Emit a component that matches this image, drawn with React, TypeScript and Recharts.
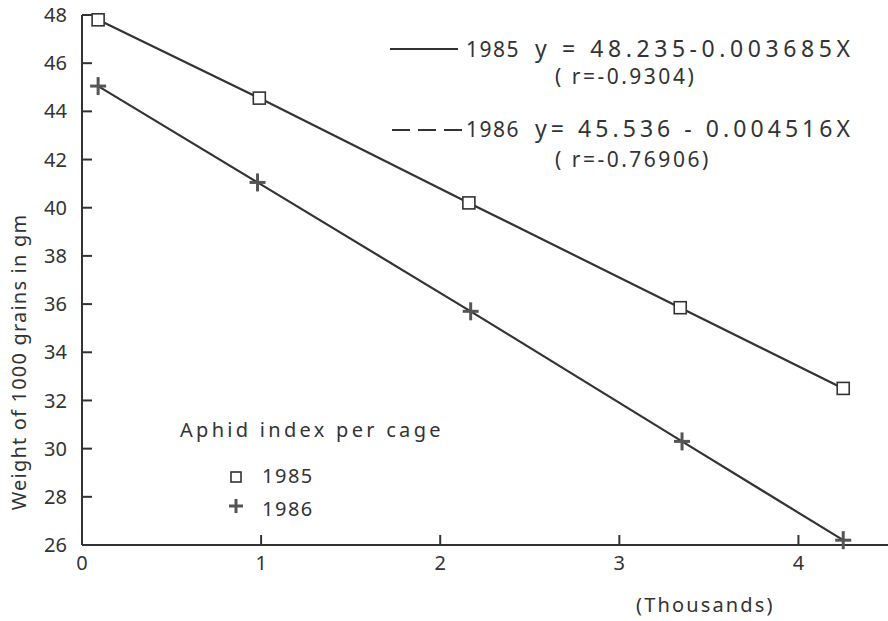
import React from "react";
import { LineChart, Line, XAxis, YAxis } from "recharts";

const aphid1985 = [0.09, 0.99, 2.16, 3.34, 4.25];
const weight1985 = [47.8, 44.55, 40.2, 35.85, 32.5];
const aphid1986 = [0.09, 0.98, 2.17, 3.35, 4.25];
const weight1986 = [45.05, 41.05, 35.7, 30.3, 26.2];
const yTicks = [26, 28, 30, 32, 34, 36, 38, 40, 42, 44, 46, 48];
const xTicks = [0, 1, 2, 3, 4];

const series85 = aphid1985.map((x, i) => ({ x, y: weight1985[i] }));
const series86 = aphid1986.map((x, i) => ({ x, y: weight1986[i] }));

const INK = "#333";
const FONT = "'Noto Sans', sans-serif";

const Square = (props: any) => {
  const { cx, cy } = props;
  if (cx == null || cy == null) return null;
  return <rect x={cx - 6} y={cy - 6} width={12} height={12} fill="#fff" stroke={INK} strokeWidth={1.6} />;
};

const Plus = (props: any) => {
  const { cx, cy } = props;
  if (cx == null || cy == null) return null;
  return (
    <g stroke="#555" strokeWidth={3}>
      <line x1={cx - 8} y1={cy} x2={cx + 8} y2={cy} />
      <line x1={cx} y1={cy - 9} x2={cx} y2={cy + 9} />
    </g>
  );
};

const tickStyle = { fill: INK, fontSize: 20, fontFamily: FONT };

export default function App() {
  return (
    <div style={{ position: "absolute", left: 0, top: 0, width: 888, height: 621, background: "#fff" }}>
      <LineChart width={888} height={621} margin={{ top: 15, right: 0, left: 0, bottom: 0 }}>
        <XAxis
          type="number"
          dataKey="x"
          domain={[0, 4.5]}
          ticks={xTicks}
          allowDataOverflow
          stroke={INK}
          strokeWidth={2}
          tickSize={-10}
          tickMargin={21}
          tick={tickStyle}
          height={76}
        />
        <YAxis
          type="number"
          domain={[26, 48]}
          ticks={yTicks}
          stroke={INK}
          strokeWidth={2}
          tickSize={-10}
          tickMargin={25}
          tick={tickStyle}
          width={82}
        />
        <Line data={series85} dataKey="y" stroke={INK} strokeWidth={2.2} dot={<Square />} isAnimationActive={false} />
        <Line data={series86} dataKey="y" stroke={INK} strokeWidth={2.2} dot={<Plus />} isAnimationActive={false} />
      </LineChart>
      <svg width={888} height={621} style={{ position: "absolute", left: 0, top: 0, pointerEvents: "none" }}>
        <g fill={INK} fontFamily={FONT} fontSize={20} letterSpacing={1.5}>
          <text x={18} y={362} transform="rotate(-90 18 362)" textAnchor="middle" dominantBaseline="central" letterSpacing={1.2}>
            Weight of 1000 grains in gm
          </text>
          <line x1={390} y1={49} x2={458} y2={49} stroke={INK} strokeWidth={2} />
          <text x={466} y={57} fontSize={21}>1985</text>
          <text x={535} y={57} fontSize={23} letterSpacing={2} textLength={317} lengthAdjust="spacing">y = 48.235-0.003685X</text>
          <text x={555} y={84} fontSize={21} letterSpacing={2.5}>( r=-0.9304)</text>
          <line x1={392} y1={130} x2={462} y2={130} stroke={INK} strokeWidth={2} strokeDasharray="18 8" />
          <text x={466} y={137} fontSize={21}>1986</text>
          <text x={535} y={137} fontSize={23} letterSpacing={2} textLength={317} lengthAdjust="spacing">y= 45.536 - 0.004516X</text>
          <text x={555} y={167} fontSize={21} letterSpacing={2.5}>( r=-0.76906)</text>
          <text x={180} y={437} textLength={262} lengthAdjust="spacing">Aphid index per cage</text>
          <rect x={231} y={472} width={10} height={10} fill="none" stroke={INK} strokeWidth={1.6} />
          <text x={262} y={483}>1985</text>
          <g stroke="#555" strokeWidth={3}>
            <line x1={229} y1={506} x2={243} y2={506} />
            <line x1={236} y1={499} x2={236} y2={513} />
          </g>
          <text x={262} y={516}>1986</text>
          <text x={636} y={612} textLength={138} lengthAdjust="spacing">(Thousands)</text>
        </g>
      </svg>
    </div>
  );
}
